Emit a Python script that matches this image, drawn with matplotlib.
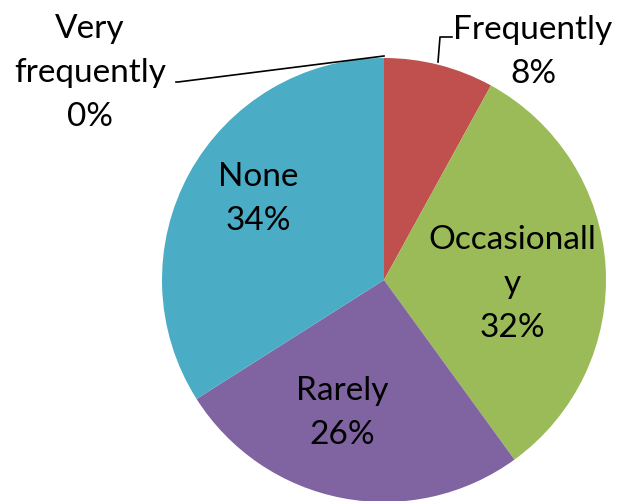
import matplotlib
matplotlib.use("Agg")
import matplotlib.pyplot as plt
import numpy as np

categories = ["Very\nfrequently", "Frequently", "Occasionall\ny", "Rarely", "None"]
values = [0, 8, 32, 26, 34]
colors = ["#4F81BD", "#C0504D", "#9BBB59", "#8064A2", "#4BACC6"]

plt.rcParams['font.family'] = ['Lato', 'DejaVu Sans']

W, H = 619, 502
fig = plt.figure(figsize=(W / 100, H / 100), dpi=100)
cx, cy, r = 384, 281, 222
ax = fig.add_axes([(cx - r) / W, (H - cy - r) / H, 2 * r / W, 2 * r / H])

wedges, _ = ax.pie(values, colors=colors, startangle=90, counterclock=False,
                   radius=1.0, wedgeprops=dict(linewidth=0))
ax.set_xlim(-1, 1)
ax.set_ylim(-1, 1)
ax.set_aspect('equal')
ax.axis('off')

labels = [f"{c}\n{v}%" for c, v in zip(categories, values)]

def px(x, y):
    return ((x - cx) / r, (cy - y) / r)

fs = 24
ls = 1.6
# inside labels
ax.text(*px(258, 199), labels[4], ha='center', va='center', fontsize=fs, linespacing=ls)
ax.text(*px(512, 284), labels[2], ha='center', va='center', fontsize=fs, linespacing=ls)
ax.text(*px(342, 413), labels[3], ha='center', va='center', fontsize=fs, linespacing=ls)
# outside labels
ax.text(*px(90, 73), labels[0], ha='center', va='center', fontsize=fs, linespacing=ls, clip_on=False)
ax.text(*px(533, 52), labels[1], ha='center', va='center', fontsize=fs, linespacing=ls, clip_on=False)

# leader lines
x0, y0 = px(384, 57)
x1, y1 = px(178, 83)
x2, y2 = px(176, 83)
ax.plot([x0, x1, x2], [y0, y1, y2], color='black', lw=1.2, clip_on=False)
a, b = px(438, 63)
c, d = px(440, 38)
e, f = px(452, 38)
ax.plot([a, c, e], [b, d, f], color='black', lw=1.2, clip_on=False)

fig.savefig("out.png", dpi=100)
